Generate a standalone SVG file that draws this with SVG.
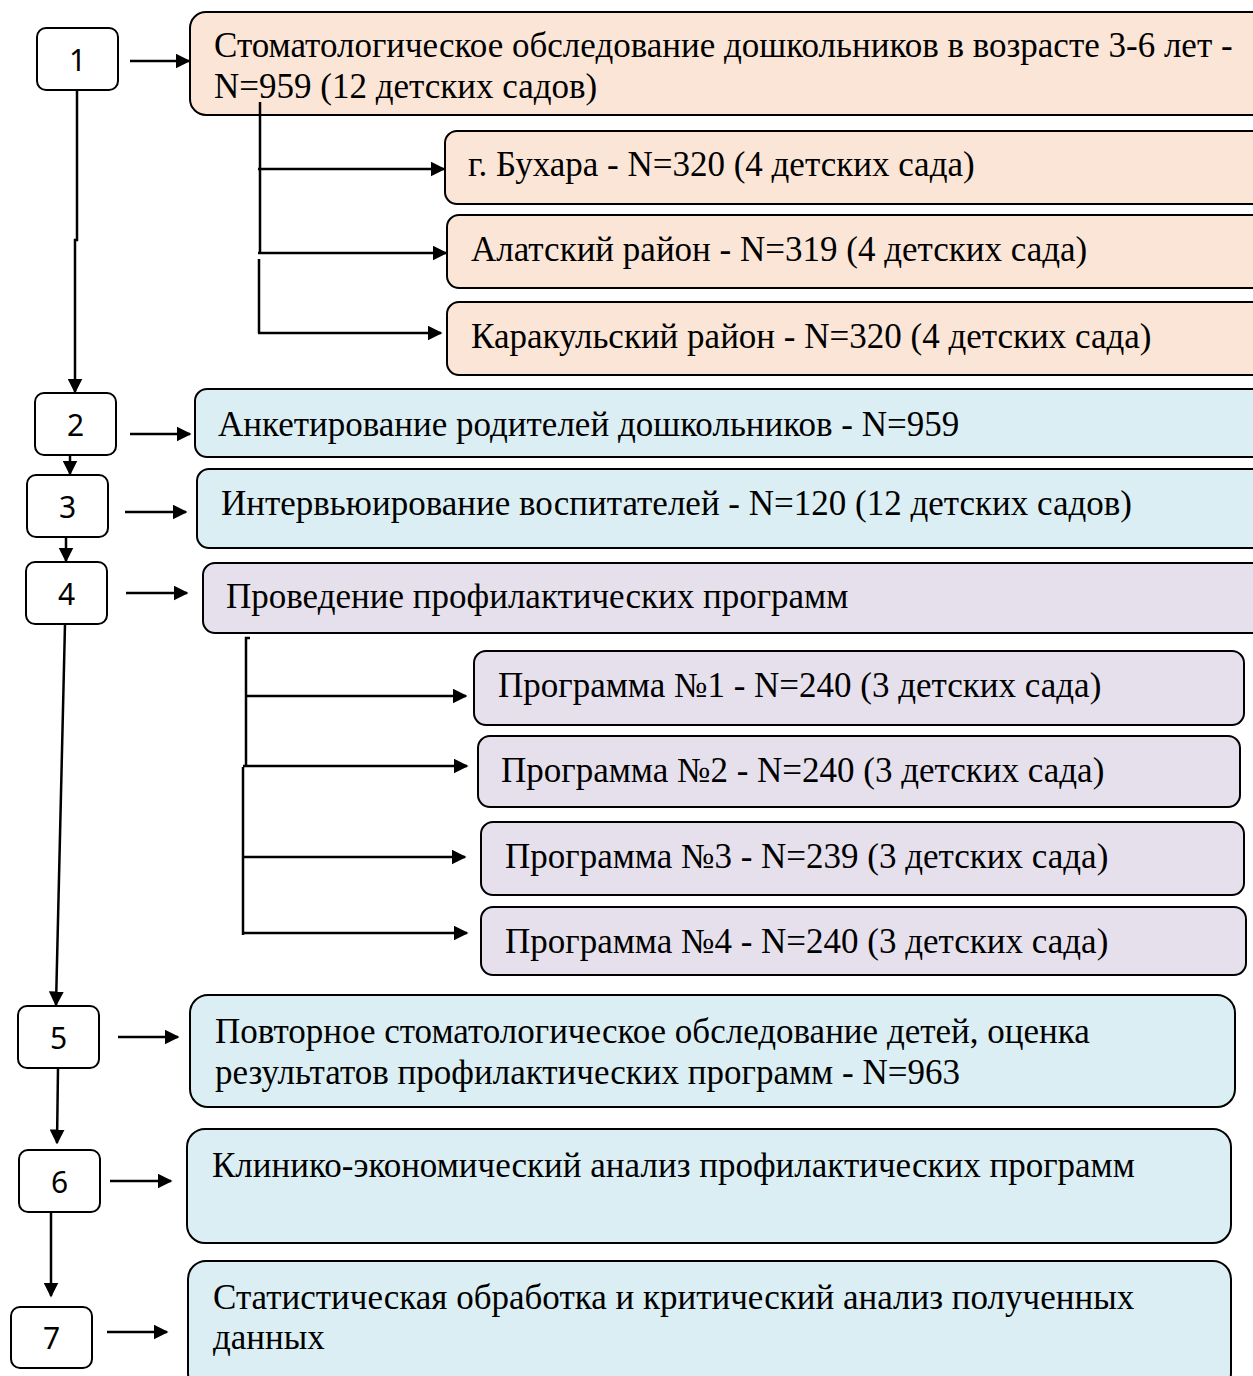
<svg xmlns="http://www.w3.org/2000/svg" width="1253" height="1376" viewBox="0 0 1253 1376">
<style>
.num{fill:#fff;stroke:#000;stroke-width:2}
.peach{fill:#fbe5d6;stroke:#000;stroke-width:2}
.blue{fill:#dbeef3;stroke:#000;stroke-width:2}
.lav{fill:#e5e0ec;stroke:#000;stroke-width:2}
.t{font-family:"Liberation Serif","Times New Roman",serif;font-size:35px;fill:#000}
.n{font-family:"Noto Sans","Liberation Sans",sans-serif;font-size:30px;fill:#000;text-anchor:middle}
.c{fill:none;stroke:#000;stroke-width:2.5}
</style>
<defs>
<marker id="ah" viewBox="0 0 10 10" refX="9" refY="5" markerWidth="6" markerHeight="6" markerUnits="strokeWidth" orient="auto">
<path d="M0,0 L10,5 L0,10 z" fill="#000"/>
</marker>
</defs>
<rect width="1253" height="1376" fill="#fff"/>

<g id="n1"><rect class="num" x="37" y="28" width="81" height="62" rx="9"/><text class="n" x="77.5" y="71">1</text></g>
<g id="b1"><rect class="peach" x="190" y="12" width="1080" height="103" rx="16"/>
<text class="t" x="214" y="57">Стоматологическое обследование дошкольников в возрасте 3-6 лет -</text>
<text class="t" x="214" y="98">N=959 (12 детских садов)</text></g>
<g id="b1a"><rect class="peach" x="445" y="131" width="830" height="73" rx="12"/><text class="t" x="468" y="176">г. Бухара - N=320 (4 детских сада)</text></g>
<g id="b1b"><rect class="peach" x="447" y="215" width="830" height="73" rx="12"/><text class="t" x="471" y="261">Алатский район - N=319 (4 детских сада)</text></g>
<g id="b1c"><rect class="peach" x="447" y="302" width="830" height="73" rx="12"/><text class="t" x="471" y="348">Каракульский район - N=320 (4 детских сада)</text></g>

<g id="n2"><rect class="num" x="35" y="393" width="81" height="62" rx="9"/><text class="n" x="75.5" y="436">2</text></g>
<g id="b2"><rect class="blue" x="195" y="389" width="1080" height="68" rx="12"/><text class="t" x="218" y="436">Анкетирование родителей дошкольников - N=959</text></g>

<g id="n3"><rect class="num" x="27" y="475" width="81" height="62" rx="9"/><text class="n" x="67.5" y="518">3</text></g>
<g id="b3"><rect class="blue" x="197" y="469" width="1080" height="79" rx="12"/><text class="t" x="221" y="515">Интервьюирование воспитателей - N=120 (12 детских садов)</text></g>

<g id="n4"><rect class="num" x="26" y="562" width="81" height="62" rx="9"/><text class="n" x="66.5" y="605">4</text></g>
<g id="b4"><rect class="lav" x="203" y="563" width="1080" height="70" rx="12"/><text class="t" x="226" y="608">Проведение профилактических программ</text></g>
<g id="p1"><rect class="lav" x="474" y="651" width="770" height="74" rx="12"/><text class="t" x="498" y="697">Программа №1 - N=240 (3 детских сада)</text></g>
<g id="p2"><rect class="lav" x="478" y="736" width="762" height="71" rx="12"/><text class="t" x="501" y="782">Программа №2 - N=240 (3 детских сада)</text></g>
<g id="p3"><rect class="lav" x="481" y="822" width="763" height="73" rx="12"/><text class="t" x="505" y="868">Программа №3 - N=239 (3 детских сада)</text></g>
<g id="p4"><rect class="lav" x="481" y="907" width="765" height="68" rx="12"/><text class="t" x="505" y="953">Программа №4 - N=240 (3 детских сада)</text></g>

<g id="n5"><rect class="num" x="18" y="1006" width="81" height="62" rx="9"/><text class="n" x="58.5" y="1049">5</text></g>
<g id="b5"><rect class="blue" x="190" y="995" width="1045" height="112" rx="18"/>
<text class="t" x="215" y="1043">Повторное стоматологическое обследование детей, оценка</text>
<text class="t" x="215" y="1084">результатов профилактических программ - N=963</text></g>

<g id="n6"><rect class="num" x="19" y="1150" width="81" height="62" rx="9"/><text class="n" x="59.5" y="1193">6</text></g>
<g id="b6"><rect class="blue" x="187" y="1129" width="1044" height="114" rx="18"/>
<text class="t" x="212" y="1177">Клинико-экономический анализ профилактических программ</text></g>

<g id="n7"><rect class="num" x="11" y="1307" width="81" height="61" rx="9"/><text class="n" x="51.5" y="1349">7</text></g>
<g id="b7"><rect class="blue" x="188" y="1261" width="1043" height="130" rx="18"/>
<text class="t" x="213" y="1309">Статистическая обработка и критический анализ полученных</text>
<text class="t" x="213" y="1349">данных</text></g>

<g id="connectors">
<path class="c" d="M77,90 V240 H75 V392" marker-end="url(#ah)"/>
<path class="c" d="M130,61 H189" marker-end="url(#ah)"/>
<path class="c" d="M260,102 V252 M259,259 V333" />
<path class="c" d="M258,169 H444" marker-end="url(#ah)"/>
<path class="c" d="M258,253 H446" marker-end="url(#ah)"/>
<path class="c" d="M258,333 H441" marker-end="url(#ah)"/>
<path class="c" d="M130,434 H190" marker-end="url(#ah)"/>
<path class="c" d="M70,455 V474" marker-end="url(#ah)"/>
<path class="c" d="M125,512 H186" marker-end="url(#ah)"/>
<path class="c" d="M66,537 V561" marker-end="url(#ah)"/>
<path class="c" d="M126,593 H187" marker-end="url(#ah)"/>
<path class="c" d="M65,624 L56,1005" marker-end="url(#ah)"/>
<path class="c" d="M250,638 H246 V767 M243,767 V935" />
<path class="c" d="M246,696 H466" marker-end="url(#ah)"/>
<path class="c" d="M243,766 H467" marker-end="url(#ah)"/>
<path class="c" d="M243,857 H465" marker-end="url(#ah)"/>
<path class="c" d="M242,933 H467" marker-end="url(#ah)"/>
<path class="c" d="M118,1037 H178" marker-end="url(#ah)"/>
<path class="c" d="M58,1068 L57,1143" marker-end="url(#ah)"/>
<path class="c" d="M110,1181 H171" marker-end="url(#ah)"/>
<path class="c" d="M51,1212 V1296" marker-end="url(#ah)"/>
<path class="c" d="M107,1332 H167" marker-end="url(#ah)"/>
</g>
</svg>
